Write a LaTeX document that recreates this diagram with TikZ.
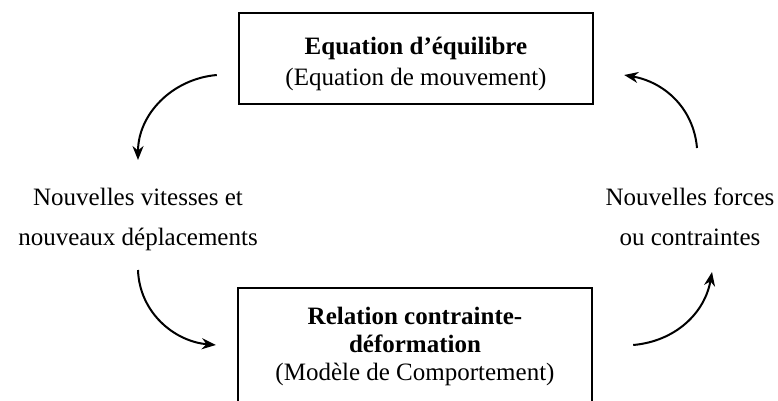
\documentclass[tikz,border=0pt]{standalone}
\usepackage{fontspec}
\setmainfont{Liberation Serif}
\usetikzlibrary{%
  arrows.meta,%
  positioning,%
}

\begin{document}
\begin{tikzpicture}[x=1pt, y=1pt, font=\fontsize{25}{31}\selectfont]
      \clip (0,0) rectangle (778,400);
      \tikzset{bloc/.style={draw, line width=2.4pt, minimum width=354pt},
               etiq/.style={align=center, inner sep=0pt, font=\fontsize{25}{40}\selectfont},
               fleche/.style={-{Stealth[length=14pt, width=11pt]}, line width=2pt}}
      \node [bloc, minimum height=91pt] (equilibre) at (416, 341.5) {};
      \node [align=center, inner sep=0pt] (equilibretxt) at ([yshift=-5pt]equilibre.center) {\textbf{Equation d’équilibre} \\ (Equation de mouvement)};
      \node [bloc, minimum height=122pt] (relation) at (415, 51) {};
      \node [align=center, inner sep=0pt, font=\fontsize{25}{28}\selectfont] (relationtxt) at ([yshift=3pt]relation.center) {\textbf{Relation contrainte-} \\ \textbf{déformation} \\ (Modèle de Comportement)};
      \node [etiq] (vitesses) at (138, 181) {Nouvelles vitesses et \\ nouveaux déplacements};
      \node [etiq] (forces) at (690, 183) {Nouvelles forces \\ ou contraintes};
      \draw [fleche] ([xshift=-21pt, yshift=-16.5pt]equilibre.west) to [out=185, in=90] ([yshift=59pt]vitesses.center);
      \draw [fleche] ([yshift=-51pt]vitesses.center) to [out=272, in=175] ([xshift=-21pt, yshift=4pt]relation.west);
      \draw [fleche] ([xshift=40pt, yshift=4pt]relation.east) to [out=5, in=260] ([xshift=22pt, yshift=-55pt]forces.center);
      \draw [fleche] ([xshift=7pt, yshift=69pt]forces.center) to [out=95, in=350] ([xshift=30pt, yshift=-16.5pt]equilibre.east);
    \end{tikzpicture}
\end{document}
